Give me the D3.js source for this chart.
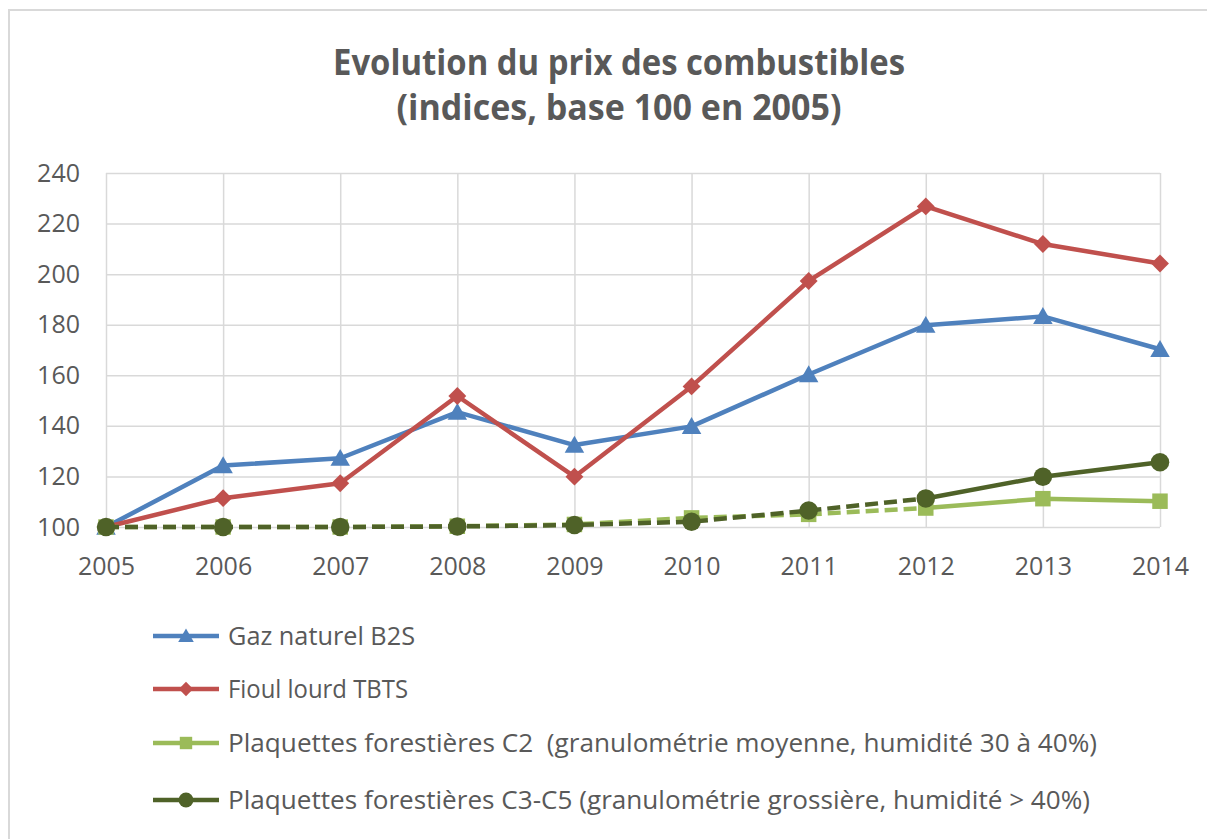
<!DOCTYPE html>
<html><head><meta charset="utf-8">
<script src="https://cdn.jsdelivr.net/npm/d3@7"></script>
<style>body{margin:0;background:#fff;overflow:hidden} text{white-space:pre}</style>
</head><body>
<svg id="c" width="1207" height="839"></svg>
<script>
const years = [2005, 2006, 2007, 2008, 2009, 2010, 2011, 2012, 2013, 2014];
const yTicks = [100, 120, 140, 160, 180, 200, 220, 240];
const gaz   = [100, 124.3, 127.2, 145.4, 132.4, 139.8, 160.3, 179.8, 183.3, 170.3];
const fioul = [100, 111.4, 117.3, 151.8, 119.9, 155.6, 197.3, 226.8, 211.9, 204.2];
const c2    = [100, 100, 100, 100.3, 101, 103.6, 105, 107.5, 111.2, 110.2];
const c3c5  = [100, 100, 100, 100.2, 100.8, 102.1, 106.5, 111.3, 119.9, 125.6];
const seriesNames = [
  "Gaz naturel B2S",
  "Fioul lourd TBTS",
  "Plaquettes forestières C2  (granulométrie moyenne, humidité 30 à 40%)",
  "Plaquettes forestières C3-C5 (granulométrie grossière, humidité > 40%)"
];
const seriesColors = ["#4F81BD", "#C0504D", "#9BBB59", "#4F6228"];
const seriesSymbols = ["triangle", "diamond", "square", "circle"];
const dashedUntil = [null, null, 2012, 2012];
const titleLines = ["Evolution du prix des combustibles", "(indices, base 100 en 2005)"];

const svg = d3.select("#c");
const font = "'Open Sans', 'Noto Sans', sans-serif";
const textColor = "#595959";
const gridColor = "#D9D9D9";

// outer frame
svg.append("rect").attr("x", 9).attr("y", 10).attr("width", 1220).attr("height", 860)
  .attr("fill", "#fff").attr("stroke", "#D9D9D9").attr("stroke-width", 2);

const L = 106, R = 1160, T = 173, B = 527;
const x = d3.scaleLinear().domain([2005, 2014]).range([L, R]);
const y = d3.scaleLinear().domain([100, 240]).range([B, T]);

// title
const titleY = [75, 120], titleW = [572, 445];
titleLines.forEach((t, i) => {
  svg.append("text").attr("x", 619).attr("y", titleY[i]).attr("text-anchor", "middle")
    .attr("font-family", font).attr("font-weight", "bold").attr("font-size", 36)
    .attr("fill", textColor).attr("textLength", titleW[i]).attr("lengthAdjust", "spacingAndGlyphs")
    .text(t);
});

// y axis + horizontal grid
const gy = svg.append("g").attr("transform", `translate(${L},0)`)
  .call(d3.axisLeft(y).tickValues(yTicks).tickSize(-(R - L)).tickPadding(26));
gy.select(".domain").remove();
gy.selectAll(".tick line").attr("stroke", gridColor).attr("stroke-width", 1.5);
gy.selectAll(".tick text").attr("font-family", font).attr("font-size", 25).attr("fill", textColor);

// x axis + vertical grid
const gx = svg.append("g").attr("transform", `translate(0,${B})`)
  .call(d3.axisBottom(x).tickValues(years).tickFormat(d3.format("d")).tickSize(-(B - T)).tickPadding(30));
gx.select(".domain").remove();
gx.selectAll(".tick line").attr("stroke", gridColor).attr("stroke-width", 1.5);
gx.selectAll(".tick text").attr("font-family", font).attr("font-size", 25).attr("fill", textColor);

const seriesData = [gaz, fioul, c2, c3c5];
const symType = {triangle: d3.symbolTriangle, diamond: d3.symbolSquare, square: d3.symbolSquare, circle: d3.symbolCircle};
const symSize = {triangle: 165, diamond: 160, square: 240, circle: 270};
const symRot = {triangle: 0, diamond: 45, square: 0, circle: 0};
const line = d3.line().x(d => x(d[0])).y(d => y(d[1]));

function drawSymbol(g, kind, color, cx, cy, k) {
  const dy = kind === "triangle" ? 2 * k : 0;
  g.append("path").attr("d", d3.symbol(symType[kind], symSize[kind] * k * k)())
    .attr("transform", `translate(${cx},${cy + dy}) rotate(${symRot[kind]})`)
    .attr("fill", color);
}

seriesData.forEach((vals, i) => {
  const pts = years.map((yr, j) => [yr, vals[j]]);
  const g = svg.append("g");
  const color = seriesColors[i];
  if (dashedUntil[i]) {
    const a = pts.filter(p => p[0] <= dashedUntil[i]);
    const b = pts.filter(p => p[0] >= dashedUntil[i]);
    g.append("path").attr("d", line(a)).attr("fill", "none").attr("stroke", color)
      .attr("stroke-width", 4.5).attr("stroke-dasharray", "13,6");
    g.append("path").attr("d", line(b)).attr("fill", "none").attr("stroke", color)
      .attr("stroke-width", 4.5).attr("stroke-linejoin", "round");
  } else {
    g.append("path").attr("d", line(pts)).attr("fill", "none").attr("stroke", color)
      .attr("stroke-width", 4.5).attr("stroke-linejoin", "round");
  }
  pts.forEach(p => drawSymbol(g, seriesSymbols[i], color, x(p[0]), y(p[1]), 1));
});

// legend
const legY = [636, 689, 743, 800];
const legW = [187, 180, 869, 862];
seriesNames.forEach((name, i) => {
  const g = svg.append("g");
  g.append("line").attr("x1", 153).attr("x2", 219).attr("y1", legY[i]).attr("y2", legY[i])
    .attr("stroke", seriesColors[i]).attr("stroke-width", 4.5);
  drawSymbol(g, seriesSymbols[i], seriesColors[i], 186, legY[i], 0.8);
  g.append("text").attr("x", 228).attr("y", legY[i] + 9)
    .attr("font-family", font).attr("font-size", 26).attr("fill", textColor)
    .attr("textLength", legW[i]).attr("lengthAdjust", "spacingAndGlyphs")
    .text(name);
});
</script>
</body></html>
